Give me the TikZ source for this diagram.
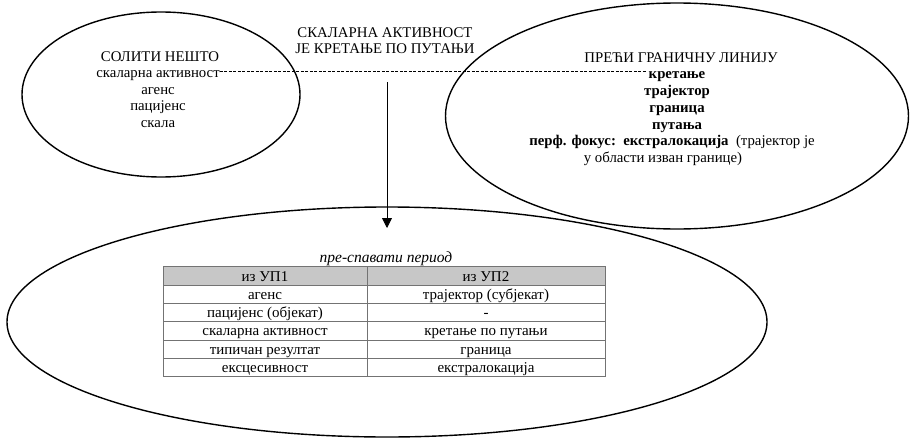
\documentclass[tikz,border=0pt]{standalone}
\usepackage{fontspec}
\setmainfont{Liberation Serif}
\usetikzlibrary{shapes, arrows.meta, calc}

\begin{document}
\begin{tikzpicture}[x=1pt,y=-1pt,
    el/.style={ellipse,draw,line width=1.4pt,inner sep=0pt},
    tx/.style={anchor=base,inner sep=0pt,font=\fontsize{14.8}{17}\selectfont},
    bx/.style={tx,font=\fontsize{14.8}{17}\selectfont\bfseries},
    cell/.style={anchor=base,inner sep=0pt,font=\fontsize{15}{17}\selectfont},
    rule/.style={draw=black!55,line width=0.6pt}]
    \useasboundingbox (0,0) rectangle (910,439);

    \draw (161,94.5) node[el,minimum width=278,minimum height=165](solit){};
    \draw (677,116)  node[el,minimum width=463,minimum height=226](preci){};
    \draw (387,322)  node[el,minimum width=760,minimum height=230](spav){};

    \draw (385,37) node[tx](naslov){СКАЛАРНА АКТИВНОСТ};
    \draw (385,53) node[tx](naslovb){ЈЕ КРЕТАЊЕ ПО ПУТАЊИ};

    \draw (160,61)  node[tx](solitnaslov){СОЛИТИ НЕШТО};
    \draw (158,77)  node[tx](skalar){скаларна активност};
    \draw (158,94)  node[tx](agens){агенс};
    \draw (158,110) node[tx](pacijens){пацијенс};
    \draw (158,127) node[tx](skala){скала};

    \draw (681,62)  node[tx](precinaslov){ПРЕЋИ ГРАНИЧНУ ЛИНИЈУ};
    \draw (677,78)  node[bx](kretanje){кретање};
    \draw (677,95)  node[bx](trajektor){трајектор};
    \draw (677,112) node[bx](granica){граница};
    \draw (677,129) node[bx](putanja){путања};
    \draw (672,145) node[tx](fokus){\textbf{перф. фокус:\ \ екстралокација}\ \ (трајектор је};
    \draw (663,162) node[tx](oblast){у области изван границе)};

    \coordinate (crta) at ($(skalar.base east)+(0,-6)$);
    \draw[dash pattern=on 3pt off 1.5pt,line width=0.7pt] (crta) -- ([xshift=-3pt]crta -| kretanje.west);

    \coordinate (pocetak) at (387,82);
    \coordinate (kraj) at (387,228);
    \draw[line width=0.8pt,-{Triangle[length=10pt,width=10pt]}] (pocetak) -- (kraj);

    \draw (386,262) node[tx,font=\fontsize{15.5}{17}\selectfont\itshape](period){пре-спавати период};

    \fill[black!22] (163,266) rectangle (605,285);
    \draw[rule] (163,266) rectangle (605,376);
    \draw[rule] (367,266) -- (367,376);
    \draw[rule] (163,285) -- (605,285);
    \draw[rule] (163,303) -- (605,303);
    \draw[rule] (163,321) -- (605,321);
    \draw[rule] (163,340) -- (605,340);
    \draw[rule] (163,358) -- (605,358);

    \draw (265,281) node[cell](up1){из УП1};
    \draw (486,281) node[cell](up2){из УП2};
    \draw (265,299) node[cell](a1){агенс};
    \draw (486,299) node[cell](a2){трајектор (субјекат)};
    \draw (265,317) node[cell](b1){пацијенс (објекат)};
    \draw (486,317) node[cell](b2){-};
    \draw (265,335.5) node[cell](c1){скаларна активност};
    \draw (486,335.5) node[cell](c2){кретање по путањи};
    \draw (265,354) node[cell](d1){типичан резултат};
    \draw (486,354) node[cell](d2){граница};
    \draw (265,372) node[cell](e1){ексцесивност};
    \draw (486,372) node[cell](e2){екстралокација};
\end{tikzpicture}
\end{document}
